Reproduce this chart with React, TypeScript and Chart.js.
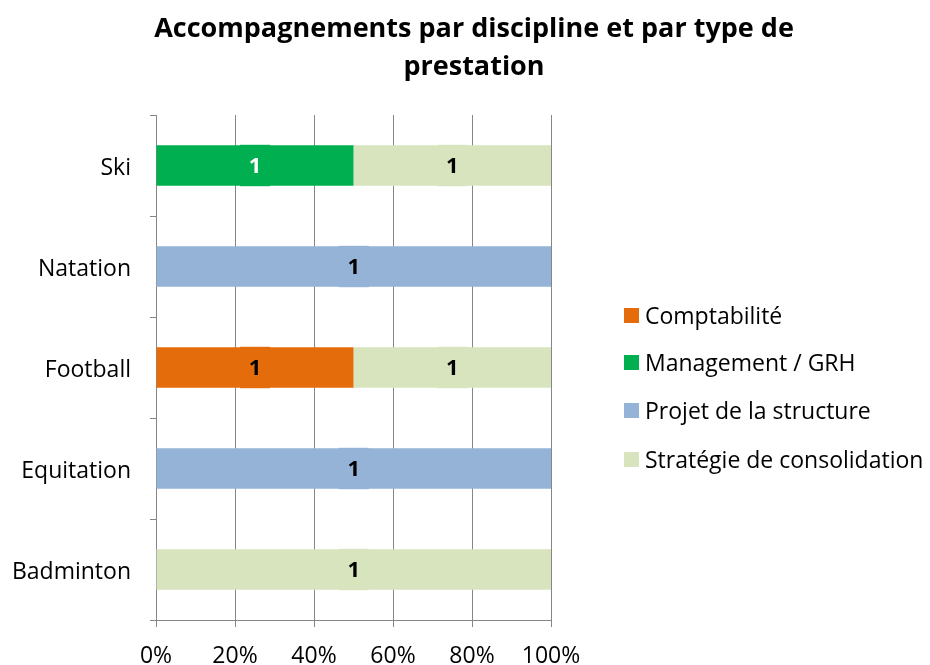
import React, { useEffect, useRef } from "react";
import { Chart, registerables } from "chart.js";

Chart.register(...registerables);

const titleLines = ["Accompagnements par discipline et par type de", "prestation"];
const categories = ["Ski", "Natation", "Football", "Equitation", "Badminton"];
const seriesNames = ["Comptabilité", "Management / GRH", "Projet de la structure", "Stratégie de consolidation"];
const comptabilite = [0, 0, 1, 0, 0];
const management = [1, 0, 0, 0, 0];
const projet = [0, 1, 0, 1, 0];
const strategie = [1, 0, 1, 0, 1];
const seriesColors = ["#E46C0A", "#00B050", "#95B3D7", "#D7E4BD"];
const labelColors = ["#000000", "#FFFFFF", "#000000", "#000000"];
const xTicks = [0, 20, 40, 60, 80, 100];

const FONT = "'Open Sans', sans-serif";

export default function App() {
  const ref = useRef<HTMLCanvasElement | null>(null);
  useEffect(() => {
    document.body.style.margin = "0";
    const raw = [comptabilite, management, projet, strategie];
    const totals = categories.map((_, i) => raw.reduce((s, arr) => s + arr[i], 0));
    const datasets = raw.map((arr, k) => ({
      label: seriesNames[k],
      data: arr.map((v, i) => (totals[i] ? (v / totals[i]) * 100 : 0)),
      rawValues: arr,
      backgroundColor: seriesColors[k],
      borderWidth: 0,
      categoryPercentage: 1,
      barPercentage: 0.4,
    }));

    const overlay = {
      id: "overlay",
      afterDatasetsDraw(chart: any) {
        const ctx = chart.ctx;
        ctx.save();
        chart.data.datasets.forEach((ds: any, k: number) => {
          const meta = chart.getDatasetMeta(k);
          meta.data.forEach((bar: any, i: number) => {
            const v = ds.rawValues[i];
            if (!v) return;
            const cx = (bar.x + bar.base) / 2;
            const cy = bar.y;
            ctx.fillStyle = seriesColors[k];
            ctx.fillRect(cx - 15, cy - bar.height / 2 - 0.5, 30, bar.height + 1);
            ctx.fillStyle = labelColors[k];
            ctx.font = `bold 22px ${FONT}`;
            ctx.textAlign = "center";
            ctx.textBaseline = "middle";
            ctx.fillText(String(v), cx, cy + 1);
          });
        });
        ctx.restore();
      },
      afterDraw(chart: any) {
        const ctx = chart.ctx;
        ctx.save();
        ctx.fillStyle = "#000";
        ctx.font = `bold 27px ${FONT}`;
        ctx.textAlign = "center";
        ctx.textBaseline = "middle";
        ctx.fillText(titleLines[0], 474, 29);
        ctx.fillText(titleLines[1], 474, 67);
        const ys = [315, 362, 410, 459];
        ctx.font = `23px ${FONT}`;
        ctx.textAlign = "left";
        chart.data.datasets.forEach((ds: any, k: number) => {
          ctx.fillStyle = seriesColors[k];
          ctx.fillRect(624, ys[k] - 7, 15, 15);
          ctx.fillStyle = "#000";
          ctx.fillText(ds.label, 645, ys[k] + 2);
        });
        ctx.restore();
      },
    };

    const chart = new Chart(ref.current as HTMLCanvasElement, {
      type: "bar",
      data: { labels: categories, datasets: datasets as any },
      options: {
        indexAxis: "y",
        animation: false,
        responsive: false,
        layout: { padding: { top: 115, right: 379, left: 0, bottom: 0 } },
        plugins: { legend: { display: false }, title: { display: false }, tooltip: { enabled: false } },
        scales: {
          x: {
            stacked: true,
            min: 0,
            max: 100,
            afterBuildTicks: (s: any) => {
              s.ticks = xTicks.map((v) => ({ value: v }));
            },
            afterFit: (s: any) => {
              s.height = 45;
            },
            ticks: {
              callback: (v: any) => v + "%",
              color: "#000",
              font: { family: FONT, size: 23 },
              padding: 16,
              maxRotation: 0,
            },
            grid: { color: "#868686", lineWidth: 1, tickLength: 7 },
            border: { color: "#868686", width: 1 },
          },
          y: {
            stacked: true,
            afterFit: (s: any) => {
              s.width = 156;
            },
            ticks: {
              color: "#000",
              font: { family: FONT, size: 23 },
              padding: 19,
              labelOffset: 3,
            },
            grid: { offset: true, drawOnChartArea: false, color: "#868686", tickLength: 6 },
            border: { color: "#868686", width: 1 },
          },
        },
      },
      plugins: [overlay],
    });
    return () => chart.destroy();
  }, []);
  return (
    <div style={{ width: 930, height: 665 }}>
      <canvas ref={ref} width={930} height={665} style={{ display: "block" }} />
    </div>
  );
}
